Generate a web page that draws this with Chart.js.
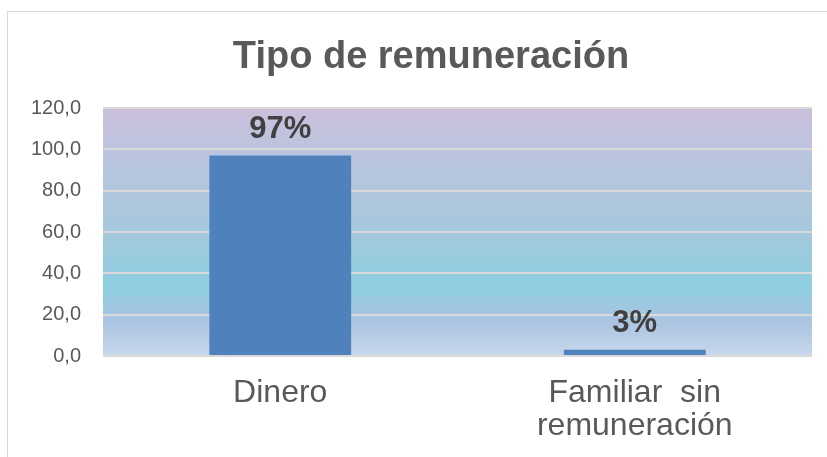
<!DOCTYPE html>
<html>
<head>
<meta charset="utf-8">
<script src="https://cdn.jsdelivr.net/npm/chart.js@4"></script>
<style>
  html, body { margin: 0; padding: 0; background: #fff; overflow: hidden; }
  #wrap { position: absolute; left: 0; top: 0; width: 827px; height: 457px; }
  #frame { position: absolute; left: 7px; top: 11px; width: 900px; height: 500px; border: 1px solid #d9d9d9; box-sizing: border-box; }
  canvas { position: absolute; left: 0; top: 0; }
</style>
</head>
<body>
<div id="wrap">
  <div id="frame"></div>
  <canvas id="myChart" width="827" height="457"></canvas>
</div>
<script>
// Datos del gráfico
var titulo = 'Tipo de remuneración';
var categorias = ['Dinero', ['Familiar  sin', 'remuneración']];
var porcentajes = [97, 3];
var ejeY = [0, 20, 40, 60, 80, 100, 120];

var gris = '#595959';
var fuente = '"Liberation Sans", Arial, sans-serif';

// Fondo degradado del área de trazado
var fondoDegradado = {
    id: 'fondoDegradado',
    beforeDraw: function (chart) {
        var a = chart.chartArea;
        var ctx = chart.ctx;
        var g = ctx.createLinearGradient(0, a.top, 0, a.bottom);
        g.addColorStop(0, '#cbbfdb');
        g.addColorStop(0.17, '#bcc4df');
        g.addColorStop(0.5, '#a5c8dc');
        g.addColorStop(0.72, '#8ecfe0');
        g.addColorStop(0.86, '#abc4e1');
        g.addColorStop(1, '#c8d7ec');
        ctx.save();
        ctx.fillStyle = g;
        ctx.fillRect(a.left, a.top, a.right - a.left, a.bottom - a.top);
        ctx.restore();
    }
};

// Título y etiquetas de porcentaje encima de cada barra
var textos = {
    id: 'textos',
    afterDatasetsDraw: function (chart) {
        var ctx = chart.ctx;
        var meta = chart.getDatasetMeta(0);
        ctx.save();
        ctx.textAlign = 'center';
        ctx.fillStyle = gris;
        ctx.font = 'bold 38px ' + fuente;
        ctx.textBaseline = 'alphabetic';
        ctx.fillText(titulo, 431, 68);

        ctx.fillStyle = '#404040';
        ctx.font = 'bold 31px ' + fuente;
        meta.data.forEach(function (bar, i) {
            ctx.fillText(porcentajes[i] + '%', bar.x, bar.y - 18);
        });
        ctx.restore();
    }
};

var chart = document.getElementById('myChart').getContext('2d');
var myChart = new Chart(chart, {
    type: 'bar',
    data: {
        labels: categorias,
        datasets: [{
            data: porcentajes,
            backgroundColor: '#4f81bd',
            barPercentage: 0.4,
            categoryPercentage: 1
        }]
    },
    options: {
        responsive: false,
        animation: false,
        layout: { padding: { left: 20, right: 15, top: 108, bottom: 0 } },
        plugins: {
            legend: { display: false },
            tooltip: { enabled: false },
            title: { display: false }
        },
        scales: {
            x: {
                grid: { display: false, drawTicks: false },
                border: { display: false },
                ticks: {
                    color: gris,
                    padding: 21,
                    maxRotation: 0,
                    font: { family: fuente, size: 32, lineHeight: 1.03 }
                },
                afterFit: function (s) { s.height = 101; }
            },
            y: {
                min: 0,
                max: 120,
                afterBuildTicks: function (s) {
                    s.ticks = ejeY.map(function (v) { return { value: v }; });
                },
                grid: { color: '#d9d9d9', lineWidth: 2, drawTicks: false },
                border: { display: false },
                ticks: {
                    color: gris,
                    padding: 22,
                    font: { family: fuente, size: 20 },
                    callback: function (v) { return v.toFixed(1).replace('.', ','); }
                },
                afterFit: function (s) { s.width = 83; }
            }
        }
    },
    plugins: [fondoDegradado, textos]
});
</script>
</body>
</html>
